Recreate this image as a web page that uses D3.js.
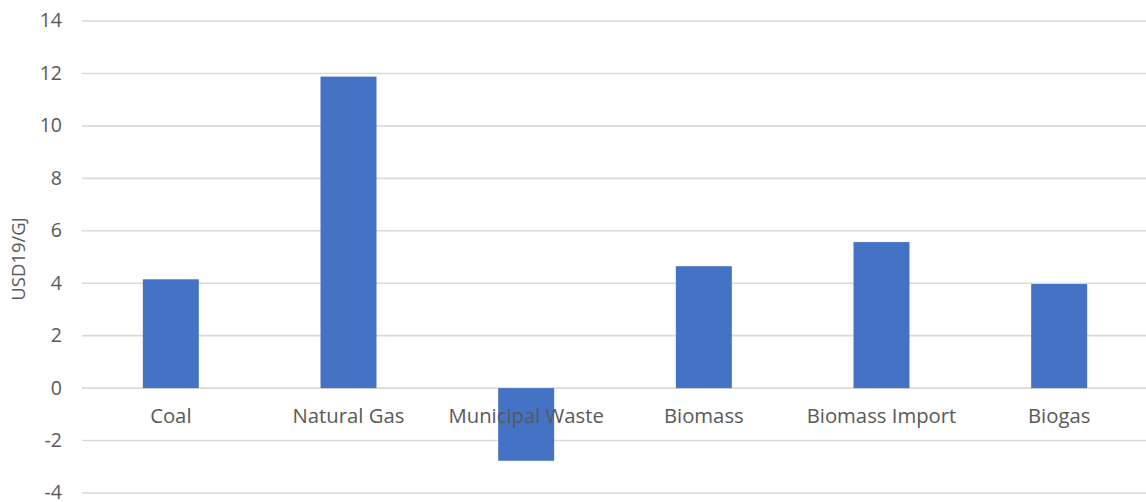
<!DOCTYPE html>
<html>
<head>
<meta charset="utf-8">
<script src="https://cdn.jsdelivr.net/npm/d3@7"></script>
<style>
  html, body { margin: 0; padding: 0; background: #ffffff; }
  svg { display: block; }
  text { font-family: "Open Sans", "Noto Sans", sans-serif; fill: #595959; }
</style>
</head>
<body>
<svg id="chart" width="1146" height="502"></svg>
<script>
// Fuel price by source, USD19 per GJ
const categories = ["Coal", "Natural Gas", "Municipal Waste", "Biomass", "Biomass Import", "Biogas"];
const values = [4.15, 11.88, -2.77, 4.65, 5.57, 3.97];
const yTicks = [-4, -2, 0, 2, 4, 6, 8, 10, 12, 14];
const yTitle = "USD19/GJ";

const width = 1146, height = 502;
const plot = { left: 82, right: 1148, top: 21, bottom: 493 };

const svg = d3.select("#chart");

const x = d3.scaleBand()
  .domain(categories)
  .range([plot.left, plot.right])
  .padding(0);

const y = d3.scaleLinear()
  .domain([-4, 14])
  .range([plot.bottom, plot.top]);

const barWidth = x.bandwidth() * 0.315;

// horizontal gridlines
svg.append("g")
  .selectAll("line")
  .data(yTicks)
  .join("line")
  .attr("x1", plot.left)
  .attr("x2", width)
  .attr("y1", d => y(d))
  .attr("y2", d => y(d))
  .attr("stroke", "#dcd9d6")
  .attr("stroke-width", 1.6);

// y tick labels
svg.append("g")
  .selectAll("text")
  .data(yTicks)
  .join("text")
  .attr("x", 62)
  .attr("y", d => y(d))
  .attr("dy", "0.33em")
  .attr("text-anchor", "end")
  .attr("font-size", 19.5)
  .text(d => d);

// y axis title
svg.append("text")
  .attr("transform", `translate(25,${(y(14) + y(-4)) / 2 + 2}) rotate(-90)`)
  .attr("text-anchor", "middle")
  .attr("font-size", 18.5)
  .text(yTitle);

// bars
svg.append("g")
  .selectAll("rect")
  .data(categories.map((c, i) => ({ c, v: values[i] })))
  .join("rect")
  .attr("x", d => x(d.c) + (x.bandwidth() - barWidth) / 2)
  .attr("width", barWidth)
  .attr("y", d => y(Math.max(0, d.v)))
  .attr("height", d => Math.abs(y(d.v) - y(0)))
  .attr("fill", "#4472c4");

// category labels along the zero line
svg.append("g")
  .selectAll("text")
  .data(categories)
  .join("text")
  .attr("x", d => x(d) + x.bandwidth() / 2)
  .attr("y", y(0) + 35)
  .attr("text-anchor", "middle")
  .attr("font-size", 20.3)
  .text(d => d);
</script>
</body>
</html>
